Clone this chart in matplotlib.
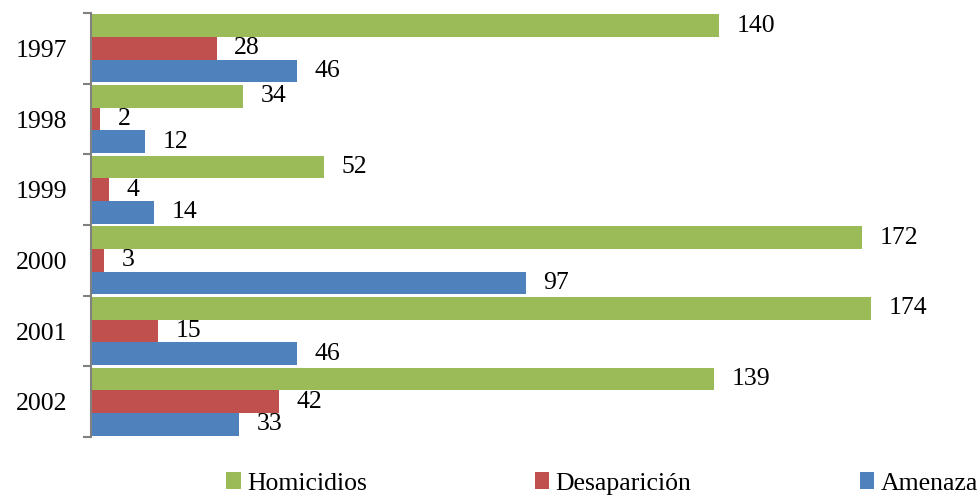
import matplotlib
matplotlib.use("Agg")
import matplotlib.pyplot as plt
import numpy as np

years = ["1997", "1998", "1999", "2000", "2001", "2002"]
homicidios = [140, 34, 52, 172, 174, 139]
desaparicion = [28, 2, 4, 3, 15, 42]
amenaza = [46, 12, 14, 97, 46, 33]
series_names = ["Homicidios", "Desaparición", "Amenaza"]
colors = ["#9BBB59", "#C0504D", "#4F81BD"]

plt.rcParams['font.family'] = ['Liberation Serif', 'DejaVu Serif']

fig = plt.figure(figsize=(9.79, 4.97), dpi=100)
ax = fig.add_axes([91/979, 1-437/497, 1-91/979, (437-13)/497])

y = np.arange(len(years))
h = 0.32
for i, (vals, name, c) in enumerate(zip([homicidios, desaparicion, amenaza], series_names, colors)):
    bars = ax.barh(y + (i - 1) * h, vals, height=h, color=c, label=name)
    ax.bar_label(bars, labels=[str(v) for v in vals], padding=12.6, fontsize=18.5, color='black')

ax.set_ylim(len(years) - 0.5, -0.5)
ax.set_xlim(0, 198)
ax.set_yticks(y)
ax.set_yticklabels(years, fontsize=18.5)
ax.set_yticks(np.arange(-0.5, len(years), 1), minor=True)
ax.tick_params(axis='y', which='major', length=0, pad=17)
ax.tick_params(axis='y', which='minor', length=6, width=1.5, color='#808080')
ax.set_xticks([])
for s in ['top', 'right', 'bottom']:
    ax.spines[s].set_visible(False)
ax.spines['left'].set_color('#808080')
ax.spines['left'].set_linewidth(1.5)

fig.legend(loc='center', bbox_to_anchor=(0.615, 0.027), ncol=3, frameon=False,
           fontsize=18.5, handlelength=0.55, handleheight=0.6, handletextpad=0.25,
           columnspacing=6.55, borderaxespad=0, borderpad=0)

fig.savefig("out.png", dpi=100)
